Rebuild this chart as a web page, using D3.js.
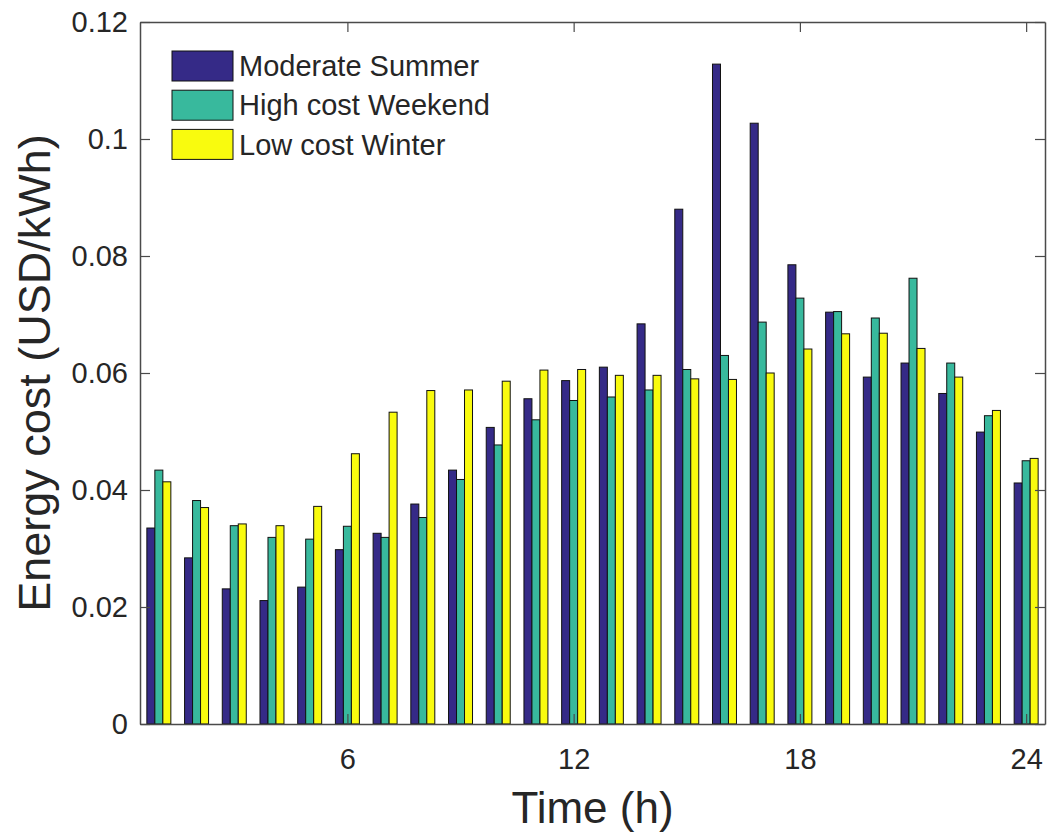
<!DOCTYPE html>
<html>
<head>
<meta charset="utf-8">
<script src="https://cdn.jsdelivr.net/npm/d3@7"></script>
<style>
  body { margin: 0; background: #fff; }
  text { font-family: "Liberation Sans", Arial, sans-serif; fill: #262626; }
</style>
</head>
<body>
<div id="main"></div>
<script>
// hourly energy cost per scenario
var hours = d3.range(1, 25);
var seriesNames = ["Moderate Summer", "High cost Weekend", "Low cost Winter"];
var seriesColors = ["#352a87", "#38b99d", "#f9fb0e"];
var moderateSummer = [0.0335, 0.0284, 0.0231, 0.0211, 0.0234, 0.0298, 0.0326, 0.0376, 0.0434, 0.0507,
                      0.0556, 0.0587, 0.0610, 0.0684, 0.0880, 0.1128, 0.1027, 0.0785, 0.0704, 0.0593,
                      0.0617, 0.0565, 0.0499, 0.0412];
var highWeekend    = [0.0434, 0.0382, 0.0339, 0.0319, 0.0316, 0.0338, 0.0319, 0.0353, 0.0418, 0.0477,
                      0.0520, 0.0553, 0.0559, 0.0571, 0.0606, 0.0630, 0.0687, 0.0728, 0.0705, 0.0694,
                      0.0762, 0.0617, 0.0527, 0.0450];
var lowWinter      = [0.0414, 0.0370, 0.0342, 0.0339, 0.0372, 0.0462, 0.0533, 0.0570, 0.0571, 0.0586,
                      0.0605, 0.0606, 0.0596, 0.0596, 0.0590, 0.0589, 0.0600, 0.0641, 0.0667, 0.0668,
                      0.0642, 0.0593, 0.0536, 0.0454];
var yTicks = [0, 0.02, 0.04, 0.06, 0.08, 0.1, 0.12];
var xTicks = [6, 12, 18, 24];

var ctx = {
    w: 1051,
    h: 833,
    left: 140,
    top: 22,
    right: 1045,
    bottom: 724,
    axisColor: "#4a4a4a",
};

var createChart = function(svgEl){
    var values = [moderateSummer, highWeekend, lowWinter];
    var x = d3.scaleLinear().domain([0.5, 24.5]).range([ctx.left, ctx.right]);
    var y = d3.scaleLinear().domain([0, 0.12]).range([ctx.bottom, ctx.top]);

    // bars of one hour sit side by side, group ~0.64 of an hour wide
    var step = x(2) - x(1);
    var sub = d3.scaleBand().domain(seriesNames).range([-step*0.318, step*0.318]);

    var rows = hours.map(function(h, i){
        return {hour: h, vals: values.map((v, k) => ({name: seriesNames[k], k: k, v: v[i]}))};
    });

    var groups = svgEl.append("g").selectAll("g").data(rows).enter().append("g")
        .attr("transform", d => "translate(" + x(d.hour) + ",0)");
    groups.selectAll("rect").data(d => d.vals).enter().append("rect")
        .attr("x", d => sub(d.name))
        .attr("width", sub.bandwidth())
        .attr("y", d => y(d.v))
        .attr("height", d => y(0) - y(d.v))
        .attr("fill", d => seriesColors[d.k])
        .attr("stroke", "#111")
        .attr("stroke-width", 1);

    // axes, ticks pointing inward like matlab's box
    var styleAxis = function(g){
        g.select(".domain").attr("stroke", ctx.axisColor).attr("stroke-width", 1.5);
        g.selectAll(".tick line").attr("stroke", ctx.axisColor).attr("stroke-width", 1.2);
        g.selectAll(".tick text").attr("fill", "#262626")
            .style("font-size", "29px").style("font-family", "'Liberation Sans', Arial, sans-serif");
    };
    svgEl.append("g").attr("transform", "translate(" + ctx.left + ",0)")
        .call(d3.axisLeft(y).tickValues(yTicks).tickFormat(d3.format("~g"))
              .tickSize(-10).tickSizeOuter(0).tickPadding(12))
        .call(styleAxis);
    svgEl.append("g").attr("transform", "translate(" + ctx.right + ",0)")
        .call(d3.axisRight(y).tickValues(yTicks).tickFormat("")
              .tickSize(-10).tickSizeOuter(0))
        .call(styleAxis);
    svgEl.append("g").attr("transform", "translate(0," + ctx.bottom + ")")
        .call(d3.axisBottom(x).tickValues(xTicks).tickFormat(d3.format("d"))
              .tickSize(-10).tickSizeOuter(0).tickPadding(24))
        .call(styleAxis);
    svgEl.append("g").attr("transform", "translate(0," + ctx.top + ")")
        .call(d3.axisTop(x).tickValues(xTicks).tickFormat("")
              .tickSize(-10).tickSizeOuter(0))
        .call(styleAxis);

    // axis titles
    svgEl.append("text")
        .attr("x", (ctx.left + ctx.right)/2).attr("y", 823)
        .attr("text-anchor", "middle")
        .style("font-size", "44px")
        .text("Time (h)");
    svgEl.append("text")
        .attr("transform", "translate(50," + ((ctx.top + ctx.bottom)/2) + ") rotate(-90)")
        .attr("text-anchor", "middle")
        .style("font-size", "45px")
        .text("Energy cost (USD/kWh)");

    // legend, no frame
    var leg = svgEl.append("g").attr("transform", "translate(172,51)");
    var item = leg.selectAll("g").data(seriesNames).enter().append("g")
        .attr("transform", (d, i) => "translate(0," + (i*39.2) + ")");
    item.append("rect")
        .attr("width", 61).attr("height", 30)
        .attr("fill", (d, i) => seriesColors[i])
        .attr("stroke", "#111").attr("stroke-width", 1);
    item.append("text")
        .attr("x", 67).attr("y", 15).attr("dy", "0.35em")
        .style("font-size", "29px")
        .text(d => d);
};

var createViz = function(){
    var svgEl = d3.select("#main").append("svg")
        .attr("width", ctx.w)
        .attr("height", ctx.h);
    createChart(svgEl);
};
createViz();
</script>
</body>
</html>
